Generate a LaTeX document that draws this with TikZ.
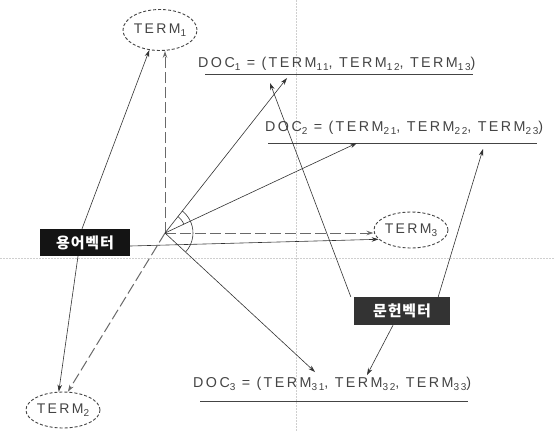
\documentclass[tikz,border=0pt]{standalone}
\usepackage{fontspec}
\setmainfont{Liberation Sans}
\newfontfamily\labfont[LetterSpace=17]{Liberation Sans}
\newfontfamily\krfont[LetterSpace=6]{Noto Sans CJK KR}
\usetikzlibrary{arrows.meta,shapes.geometric,calc}
\definecolor{ink}{HTML}{333333}
\definecolor{txt}{HTML}{444444}
\definecolor{guidec}{HTML}{CFCFCF}
\newcommand\sbs[1]{\raisebox{-0.45ex}{\fontsize{10}{10}\selectfont #1}}
\tikzset{
  vec/.style={draw=ink, line width=0.6pt, -{Stealth[length=7pt,width=4.5pt]}},
  dvec/.style={draw=txt!80, line width=1pt, dash pattern=on 11pt off 4pt, -{Stealth[length=7pt,width=4.5pt]}},
  guide/.style={draw=guidec, line width=0.8pt, dash pattern=on 1.5pt off 1.5pt},
  termel/.style={ellipse, draw=txt, line width=0.9pt, dash pattern=on 3pt off 2pt, inner sep=0pt,
     font=\labfont\fontsize{14}{14}\selectfont, text=txt},
  doclab/.style={font=\labfont\fontsize{14.3}{14.3}\selectfont, text=txt, inner sep=0pt, anchor=base west},
  uline/.style={draw=txt, line width=0.9pt},
  krbox/.style={rectangle, text=white, inner sep=0pt, font=\krfont\bfseries\fontsize{15}{15}\selectfont},
  anglearc/.style={draw=ink, line width=0.6pt}
}
\begin{document}
\begin{tikzpicture}[x=1pt,y=-1pt]
\useasboundingbox (0,0) rectangle (554,432);
\fill[white] (0,0) rectangle (554,432);
% faint fold lines of the scan
\draw[guide] (296,0) -- (296,432);
\draw[guide] (0,258) -- (554,258);

% term ellipses
\node[termel, minimum width=70pt, minimum height=41pt] (t1) at (160,30) {TERM\sbs{1}};
\node[termel, minimum width=68pt, minimum height=36pt] (t2) at (63,410) {TERM\sbs{2}};
\node[termel, minimum width=69pt, minimum height=36pt] (t3) at (411,230) {TERM\sbs{3}};

% document labels
\node[doclab] (d1) at (198,67) {DOC\sbs{1} = (TERM\sbs{11}, TERM\sbs{12}, TERM\sbs{13})};
\node[doclab] (d2) at (265,131) {DOC\sbs{2} = (TERM\sbs{21}, TERM\sbs{22}, TERM\sbs{23})};
\node[doclab] (d3) at (193,387) {DOC\sbs{3} = (TERM\sbs{31}, TERM\sbs{32}, TERM\sbs{33})};
\draw[uline] ([xshift=7pt,yshift=-7pt]d1.base west) -- ++(268,0);
\draw[uline] ([xshift=3pt,yshift=-12pt]d2.base west) -- ++(269,0);
\draw[uline] ([xshift=7pt,yshift=-14pt]d3.base west) -- ++(268,0);

% origin and arrow ends
\coordinate (O) at (165,233);
\coordinate (d1a) at (287,78);
\coordinate (d2a) at (357,143);
\coordinate (d3a) at (315,372);
\coordinate (d1b) at (270,83);
\coordinate (d2b) at (483,149);
\coordinate (d3b) at (367,375);

% boxes
\node[krbox, fill=black!92, minimum width=90pt, minimum height=27pt] (v) at (85,242.5) {용어벡터};
\node[krbox, fill=black!80, minimum width=96pt, minimum height=28pt] (w) at (402,311) {문헌벡터};

% vectors from origin
\draw[dvec] (O) -- (O |- t1.south);
\draw[dvec] (O) -- (O -| t3.west);
\draw[dvec] (O) -- (t2.75);
\draw[vec] (O) -- (d1a);
\draw[vec] (O) -- (d2a);
\draw[vec] (O) -- (d3a);

% angle marks
\draw[anglearc] ([shift={(-25.1:21)}]O) arc[start angle=-25.1, end angle=-51.8, radius=21];
\draw[anglearc] ([shift={(-51.8:28)}]O) arc[start angle=-51.8, end angle=42.8, radius=28];

% term vector arrows
\draw[vec] ([xshift=-3pt]v.north) -- (t1.242);
\draw[vec] ([xshift=-7pt]v.south) -- (t2.103);
\draw[vec] ([yshift=-3.5pt]v.east) -- (t3.196);

% document vector arrows
\draw[vec] ([xshift=-3pt]w.north west) -- (d1b);
\draw[vec] ([xshift=-12pt]w.north east) -- (d2b);
\draw[vec] ([xshift=-9pt]w.south) -- (d3b);
\end{tikzpicture}
\end{document}
